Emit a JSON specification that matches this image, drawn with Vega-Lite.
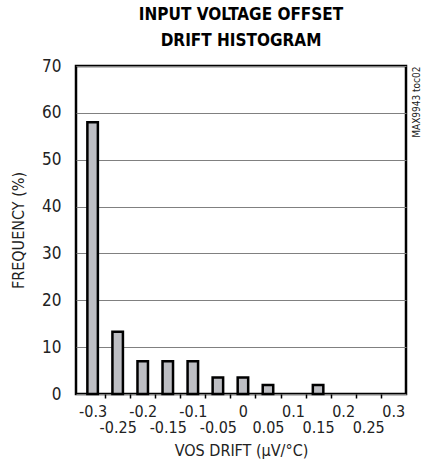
{
  "$schema": "https://vega.github.io/schema/vega-lite/v6.json",
  "width": 330,
  "height": 328,
  "autosize": "none",
  "padding": {"left": 76, "top": 66, "right": 16, "bottom": 70},
  "background": "white",
  "title": {
    "text": ["INPUT VOLTAGE OFFSET", "DRIFT HISTOGRAM"],
    "font": "'DejaVu Sans Condensed', 'Liberation Sans', sans-serif",
    "fontSize": 17,
    "fontWeight": "bold",
    "color": "black",
    "anchor": "middle",
    "lineHeight": 26,
    "offset": 7
  },
  "config": {
    "view": {"stroke": "black", "strokeWidth": 2.5},
    "axis": {
      "labelFont": "'DejaVu Sans Condensed', 'Liberation Sans', sans-serif",
      "titleFont": "'DejaVu Sans Condensed', 'Liberation Sans', sans-serif",
      "labelColor": "#222",
      "titleColor": "#222",
      "titleFontWeight": "normal"
    }
  },
  "data": {
    "values": [
      {"drift": -0.3, "freq": 58},
      {"drift": -0.25, "freq": 13.3},
      {"drift": -0.2, "freq": 7},
      {"drift": -0.15, "freq": 7},
      {"drift": -0.1, "freq": 7},
      {"drift": -0.05, "freq": 3.5},
      {"drift": 0, "freq": 3.5},
      {"drift": 0.05, "freq": 1.9},
      {"drift": 0.1, "freq": 0},
      {"drift": 0.15, "freq": 1.9},
      {"drift": 0.2, "freq": 0},
      {"drift": 0.25, "freq": 0},
      {"drift": 0.3, "freq": 0}
    ]
  },
  "layer": [
    {
      "transform": [{"filter": "datum.freq > 0"}],
      "mark": {"type": "bar", "size": 10.5, "fill": "#bdbec3", "stroke": "black", "strokeWidth": 2.5},
      "encoding": {
        "x": {
          "field": "drift",
          "type": "quantitative",
          "scale": {"domain": [-0.3232, 0.3155], "nice": false, "zero": false},
          "title": "VOS DRIFT (μV/°C)",
          "axis": {
            "values": [-0.3, -0.275, -0.25, -0.225, -0.2, -0.175, -0.15, -0.125, -0.1, -0.075, -0.05, -0.025, 0, 0.025, 0.05, 0.075, 0.1, 0.125, 0.15, 0.175, 0.2, 0.225, 0.25, 0.275, 0.3],
            "labelExpr": "abs(round(datum.value*1000)) % 50 == 0 ? ((datum.value < -0.001 ? '-' : '') + format(abs(datum.value), '.2~f')) : ''",
            "labelOverlap": false,
            "labelFlush": false,
            "labelFontSize": 16,
            "labelPadding": {"condition": {"test": "abs(round(datum.value*1000)) % 100 == 50", "value": 25}, "value": 9},
            "tickSize": {"condition": {"test": "abs(round(datum.value*1000)) % 50 == 25", "value": 4}, "value": 0},
            "tickColor": "black",
            "tickWidth": 1.5,
            "domain": false,
            "grid": false,
            "titleFontSize": 16,
            "titlePadding": 7
          }
        },
        "y": {
          "field": "freq",
          "type": "quantitative",
          "scale": {"domain": [0, 70], "nice": false},
          "title": "FREQUENCY (%)",
          "axis": {
            "values": [0, 10, 20, 30, 40, 50, 60, 70],
            "grid": true,
            "gridColor": "#808080",
            "gridWidth": 1.2,
            "domain": false,
            "ticks": false,
            "labelFontSize": 17,
            "labelPadding": 15,
            "titleFontSize": 16,
            "titlePadding": 15
          }
        }
      }
    },
    {
      "mark": {"type": "rule", "opacity": 0},
      "encoding": {
        "y": {
          "field": "freq",
          "type": "quantitative",
          "axis": {
            "orient": "right",
            "title": "MAX9943 toc02",
            "titleAngle": 270,
            "titleAnchor": "end",
            "titleFontSize": 10,
            "titlePadding": 15,
            "labels": false,
            "ticks": false,
            "domain": false,
            "grid": false
          }
        }
      }
    }
  ],
  "resolve": {"axis": {"y": "independent"}}
}
